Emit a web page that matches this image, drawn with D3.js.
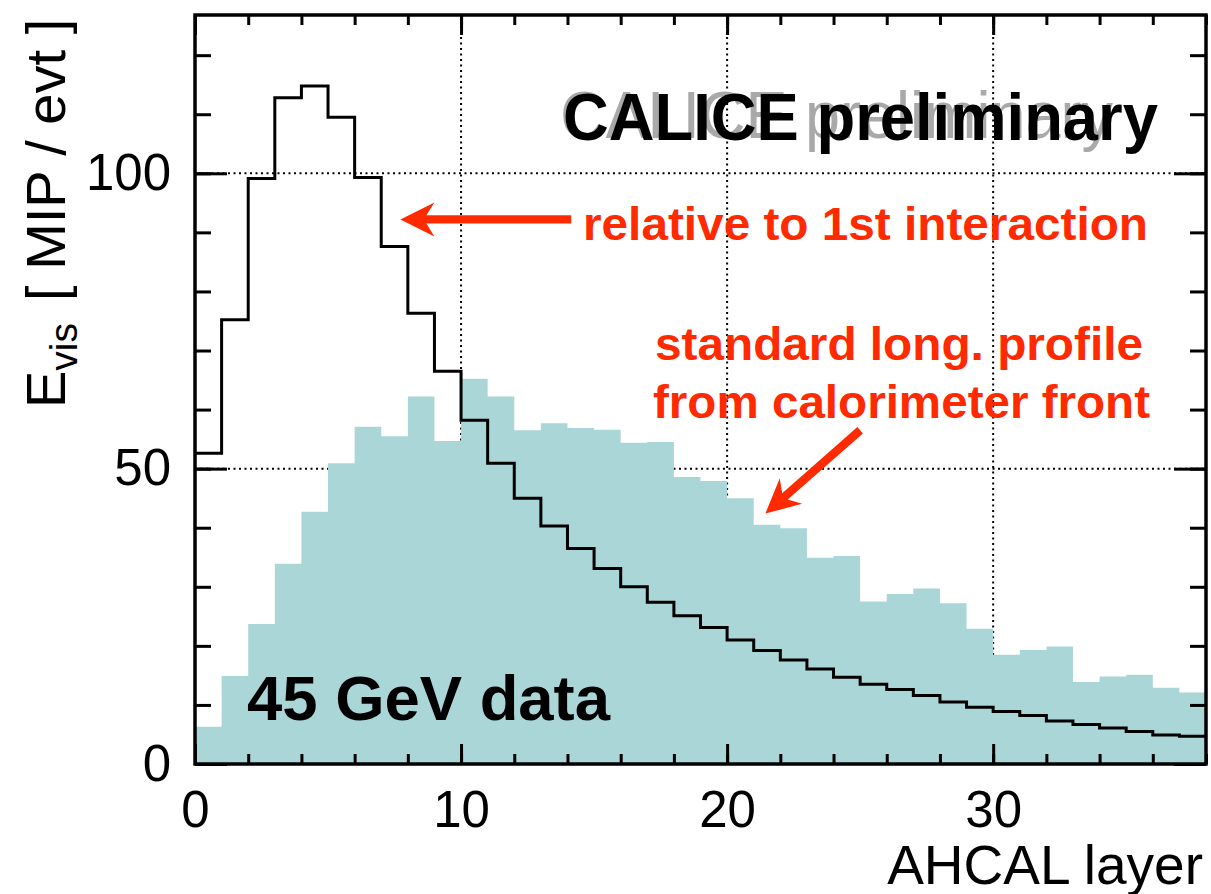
<!DOCTYPE html>
<html>
<head>
<meta charset="utf-8">
<script src="https://cdn.jsdelivr.net/npm/d3@7"></script>
<style>
  body { margin: 0; background: #fff; }
  svg text { font-family: "Liberation Sans", Arial, Helvetica, sans-serif; }
</style>
</head>
<body>
<svg id="chart" width="1211" height="894"></svg>
<script>
// AHCAL layer bin edges (bins of width 1, 0..38)
const layerEdges = d3.range(0, 39)

// E_vis per layer, shower start aligned to 1st interaction (black line)
const relativeToFirst = [52.6, 75.2, 99.1, 112.8, 114.8, 109.5, 99.3, 87.6, 76.3, 66.5,
  58.2, 50.9, 45.0, 40.3, 36.5, 33.1, 30.0, 27.4, 25.1, 23.1,
  21.0, 19.2, 17.6, 16.1, 14.7, 13.5, 12.6, 11.6, 10.5, 9.6,
  8.9, 8.2, 7.3, 6.7, 6.1, 5.5, 4.9, 4.7]

// standard longitudinal profile from calorimeter front (filled)
const standardProfile = [6.3, 14.9, 23.7, 33.9, 42.7, 50.9, 57.1, 55.5, 62.2, 54.7,
  65.2, 62.2, 56.5, 57.7, 56.9, 56.6, 54.4, 54.5, 48.6, 47.9,
  45.0, 40.5, 39.9, 34.9, 35.2, 27.5, 28.8, 29.7, 27.2, 22.9,
  18.5, 19.3, 19.9, 13.9, 14.8, 15.1, 12.9, 12.1]

const xMajorTicks = [0, 10, 20, 30]
const xMinorTicks = d3.range(0, 39, 2)
const yMajorTicks = [0, 50, 100]
const yMinorTicks = d3.range(0, 127, 10)
const xGridLines = [10, 20, 30]
const yGridLines = [50, 100]

const margin = { top: 15, right: 5, bottom: 130, left: 195 }
const width = 1211 - margin.left - margin.right
const height = 894 - margin.top - margin.bottom

const svg = d3.select('#chart')
const g = svg.append('g')
  .attr('transform', `translate(${margin.left},${margin.top})`)

const x = d3.scaleLinear().domain([0, 38]).range([0, width])
const y = d3.scaleLinear().domain([0, 126.8]).range([height, 0])

const teal = '#aad6d7'
const red = '#ff2a00'

// dotted grid
g.selectAll('.vgrid').data(xGridLines).join('line')
  .attr('x1', d => x(d)).attr('x2', d => x(d))
  .attr('y1', 0).attr('y2', height)
  .attr('stroke', '#000').attr('stroke-width', 2)
  .attr('stroke-dasharray', '2,3.5')
g.selectAll('.hgrid').data(yGridLines).join('line')
  .attr('x1', 0).attr('x2', width)
  .attr('y1', d => y(d)).attr('y2', d => y(d))
  .attr('stroke', '#000').attr('stroke-width', 2)
  .attr('stroke-dasharray', '2,3.5')

const steps = values => layerEdges.map((e, i) => ({ x: e, v: values[Math.min(i, values.length - 1)] }))

// filled histogram
g.append('path')
  .datum(steps(standardProfile))
  .attr('fill', teal)
  .attr('d', d3.area()
    .curve(d3.curveStepAfter)
    .x(d => x(d.x))
    .y0(y(0))
    .y1(d => y(d.v)))

// line histogram
g.append('path')
  .datum(steps(relativeToFirst))
  .attr('fill', 'none')
  .attr('stroke', '#000')
  .attr('stroke-width', 3)
  .attr('d', d3.line()
    .curve(d3.curveStepAfter)
    .x(d => x(d.x))
    .y(d => y(d.v)))

// axes (ticks point inwards on all four sides)
const styleAxis = sel => {
  sel.select('.domain').remove()
  sel.selectAll('.tick line').attr('stroke', '#000').attr('stroke-width', 3)
  sel.attr('font-family', null).attr('font-size', 51)
  sel.selectAll('.tick text').attr('fill', '#000')
}

g.append('g').attr('transform', `translate(0,${height})`)
  .call(d3.axisBottom(x).tickValues(xMinorTicks).tickSize(-10).tickFormat(''))
  .call(styleAxis)
g.append('g').attr('transform', `translate(0,${height})`)
  .call(d3.axisBottom(x).tickValues(xMajorTicks).tickSize(-20).tickPadding(27).tickFormat(d3.format('d')))
  .call(styleAxis)
g.append('g')
  .call(d3.axisTop(x).tickValues(xMinorTicks).tickSize(-10).tickFormat(''))
  .call(styleAxis)
g.append('g')
  .call(d3.axisTop(x).tickValues(xMajorTicks).tickSize(-20).tickFormat(''))
  .call(styleAxis)

g.append('g')
  .call(d3.axisLeft(y).tickValues(yMinorTicks).tickSize(-16).tickFormat(''))
  .call(styleAxis)
g.append('g')
  .call(d3.axisLeft(y).tickValues(yMajorTicks).tickSize(-32).tickPadding(24).tickFormat(d3.format('d')))
  .call(styleAxis)
g.append('g').attr('transform', `translate(${width},0)`)
  .call(d3.axisRight(y).tickValues(yMinorTicks).tickSize(-16).tickFormat(''))
  .call(styleAxis)
g.append('g').attr('transform', `translate(${width},0)`)
  .call(d3.axisRight(y).tickValues(yMajorTicks).tickSize(-32).tickFormat(''))
  .call(styleAxis)

// frame
g.append('rect')
  .attr('x', 0).attr('y', 0)
  .attr('width', width).attr('height', height)
  .attr('fill', 'none')
  .attr('stroke', '#000')
  .attr('stroke-width', 3.5)

// axis titles
svg.append('text')
  .attr('x', 1203).attr('y', 884)
  .attr('text-anchor', 'end')
  .attr('font-size', 55)
  .text('AHCAL layer')

const yTitle = svg.append('text')
  .attr('transform', 'translate(65,408) rotate(-90)')
  .attr('font-size', 56)
yTitle.append('tspan').text('E')
yTitle.append('tspan').attr('font-size', 39).attr('dy', 12).text('vis')
yTitle.append('tspan').attr('dy', -12).attr('dx', 22).text('[ MIP / evt ]')

// labels
svg.append('text')
  .attr('x', 560).attr('y', 138)
  .attr('font-size', 66)
  .attr('fill', '#a9a9a9')
  .attr('textLength', 553).attr('lengthAdjust', 'spacingAndGlyphs')
  .text('CALICE preliminary')
svg.append('text')
  .attr('x', 563).attr('y', 140)
  .attr('font-size', 66).attr('font-weight', 'bold')
  .attr('textLength', 595).attr('lengthAdjust', 'spacingAndGlyphs')
  .text('CALICE preliminary')

svg.append('text')
  .attr('x', 247).attr('y', 720)
  .attr('font-size', 63).attr('font-weight', 'bold')
  .attr('textLength', 363).attr('lengthAdjust', 'spacingAndGlyphs')
  .text('45 GeV data')

const redText = (tx, ty, len, str) => svg.append('text')
  .attr('x', tx).attr('y', ty)
  .attr('font-size', 46).attr('font-weight', 'bold')
  .attr('fill', red)
  .attr('textLength', len).attr('lengthAdjust', 'spacingAndGlyphs')
  .text(str)
redText(583, 240, 565, 'relative to 1st interaction')
redText(655, 360, 488, 'standard long. profile')
redText(653, 418, 497, 'from calorimeter front')

// arrows, given in data units
const arrows = [
  { from: [14.14, 92.2], to: [7.72, 92.2] },
  { from: [25.0, 56.5], to: [21.44, 42.4] }
]
const arrowShape = (a) => {
  const sx = x(a.from[0]) + margin.left, sy = y(a.from[1]) + margin.top
  const tx = x(a.to[0]) + margin.left, ty = y(a.to[1]) + margin.top
  const len = Math.hypot(tx - sx, ty - sy)
  const ux = (tx - sx) / len, uy = (ty - sy) / len
  const nx = -uy, ny = ux
  const headLen = 34, headW = 17, notch = 8, sw = 4.2
  const bx = tx - ux * (headLen - notch), by = ty - uy * (headLen - notch)
  const hx = tx - ux * headLen, hy = ty - uy * headLen
  return [
    [sx + nx * sw, sy + ny * sw],
    [bx + nx * sw, by + ny * sw],
    [hx + nx * headW, hy + ny * headW],
    [tx, ty],
    [hx - nx * headW, hy - ny * headW],
    [bx - nx * sw, by - ny * sw],
    [sx - nx * sw, sy - ny * sw]
  ].map(p => p.join(',')).join(' ')
}
svg.selectAll('.arrow').data(arrows).join('polygon')
  .attr('points', arrowShape)
  .attr('fill', red)
</script>
</body>
</html>
